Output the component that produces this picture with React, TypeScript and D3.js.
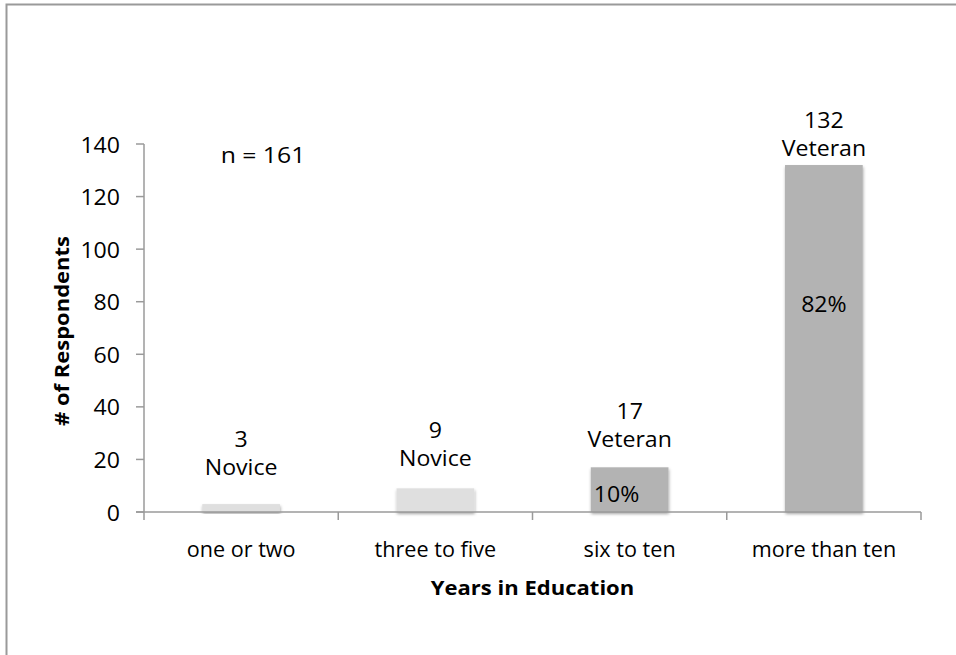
import React from "react";
import * as d3 from "d3";

const categories = ["one or two", "three to five", "six to ten", "more than ten"];
const respondents = [3, 9, 17, 132];
const groups = ["Novice", "Novice", "Veteran", "Veteran"];
const shares = ["", "", "10%", "82%"];
const yTicks = [0, 20, 40, 60, 80, 100, 120, 140];
const sampleNote = "n = 161";

// layout only
const labelGaps = [30, 23, 21, 10];
const W = 956;
const H = 655;
const M = { left: 144, right: 921, top: 144, bottom: 512 };
const FONT = "'Open Sans', Lato, sans-serif";
const SX = 1.1;

function T({ x, y, children, size = 21, anchor = "middle", weight = 400, rotate = 0, sx = SX }: any) {
  return (
    <text
      transform={`translate(${x},${y}) rotate(${rotate}) scale(${sx},1)`}
      textAnchor={anchor}
      dominantBaseline="central"
      fontFamily={FONT}
      fontSize={size}
      fontWeight={weight}
      fill="#000"
    >
      {children}
    </text>
  );
}

export default function App() {
  const x = d3.scaleBand<string>().domain(categories).range([M.left, M.right]).paddingInner(0.6).paddingOuter(0.3);
  const step = (M.right - M.left) / categories.length;
  const y = d3.scaleLinear().domain([0, 140]).range([M.bottom, M.top]);
  const colors = ["#dfdfdf", "#dfdfdf", "#b3b3b3", "#b3b3b3"];
  const axisColor = "#9a9a9a";
  const tickPos = d3.range(categories.length + 1).map((i) => M.left + i * step);

  return (
    <svg width={W} height={H} style={{ position: "absolute", left: 0, top: 0, background: "#fff" }}>
      <defs>
        <filter id="sh" x="-20%" y="-20%" width="140%" height="140%">
          <feDropShadow dx="0.5" dy="2" stdDeviation="1.5" floodColor="#000" floodOpacity="0.35" />
        </filter>
      </defs>
      <rect x={6.5} y={4.5} width={980} height={700} fill="none" stroke="#9a9a9a" strokeWidth={2} />
      {respondents.map((v, i) => (
        <rect
          key={i}
          x={x(categories[i])!}
          y={y(v)}
          width={x.bandwidth()}
          height={y(0) - y(v)}
          fill={colors[i]}
          filter="url(#sh)"
        />
      ))}
      <line x1={M.left} x2={M.left} y1={M.top} y2={M.bottom} stroke={axisColor} strokeWidth={1.5} />
      {yTicks.map((t) => (
        <g key={t}>
          <line x1={M.left - 8} x2={M.left} y1={y(t)} y2={y(t)} stroke={axisColor} strokeWidth={1.5} />
          <T x={120} y={y(t)} anchor="end">{t}</T>
        </g>
      ))}
      <line x1={M.left - 8} x2={M.right} y1={M.bottom} y2={M.bottom} stroke={axisColor} strokeWidth={1.5} />
      {tickPos.map((p, i) => (
        <line key={i} x1={p} x2={p} y1={M.bottom} y2={M.bottom + 8} stroke={axisColor} strokeWidth={1.5} />
      ))}
      {categories.map((c) => (
        <T key={c} x={x(c)! + x.bandwidth() / 2} y={549} sx={1.03}>{c}</T>
      ))}
      {respondents.map((v, i) => {
        const cx = x(categories[i])! + x.bandwidth() / 2;
        const base = y(v) - labelGaps[i];
        return (
          <g key={i}>
            <T x={cx} y={base - 36}>{v}</T>
            <T x={cx} y={base - 8}>{groups[i]}</T>
          </g>
        );
      })}
      {shares.map((s, i) =>
        s ? (
          i === 3 ? (
            <T key={i} x={x(categories[i])! + x.bandwidth() / 2} y={y(respondents[i] * 0.6)}>{s}</T>
          ) : (
            <T key={i} x={x(categories[i])! + 3} y={493} anchor="start">{s}</T>
          )
        ) : null
      )}
      <T x={263} y={155} sx={1.18}>{sampleNote}</T>
      <T x={61} y={331} size={20} weight={700} rotate={-90} sx={1.1}># of Respondents</T>
      <T x={(M.left + M.right) / 2} y={588} size={19.5} weight={700} sx={1.13}>Years in Education</T>
    </svg>
  );
}
